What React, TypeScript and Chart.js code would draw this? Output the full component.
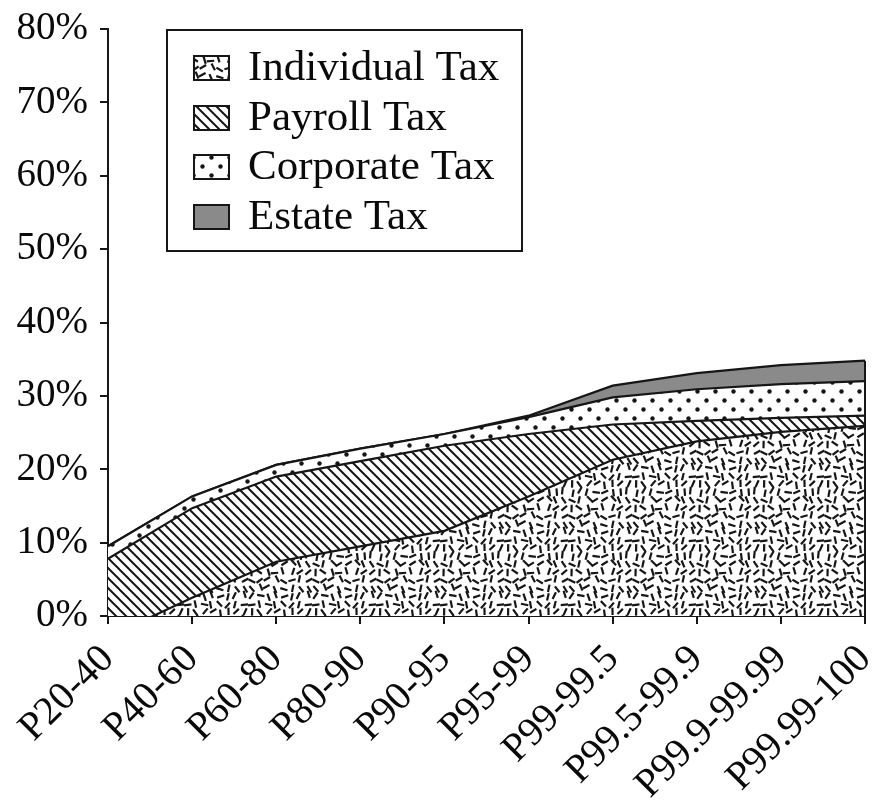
import React, { useEffect, useRef } from 'react';
import { Chart, registerables } from 'chart.js';

Chart.register(...registerables);

const categories = ['P20-40', 'P40-60', 'P60-80', 'P80-90', 'P90-95', 'P95-99', 'P99-99.5', 'P99.5-99.9', 'P99.9-99.99', 'P99.99-100'];
const individualTax = [-2.9, 2.5, 7.4, 9.5, 11.6, 16.3, 21.3, 23.8, 25.1, 25.9];
const payrollTax = [10.7, 12.2, 11.6, 11.6, 11.6, 8.5, 4.8, 2.8, 1.9, 1.4];
const corporateTax = [1.7, 1.6, 1.6, 1.7, 1.6, 2.3, 3.7, 4.3, 4.6, 4.7];
const estateTax = [0, 0, 0, 0, 0, 0.2, 1.6, 2.2, 2.6, 2.8];
const seriesLabels = ['Individual Tax', 'Payroll Tax', 'Corporate Tax', 'Estate Tax'];

const W = 872;
const H = 805;
const FONT = "'Liberation Serif', 'Times New Roman', serif";
const INK = '#161616';

function hash(n: number): number {
  let x = Math.imul(n + 0x9e3779b9, 2654435761) >>> 0;
  x ^= x >>> 15;
  x = Math.imul(x, 2246822519) >>> 0;
  x ^= x >>> 13;
  x = Math.imul(x, 3266489917) >>> 0;
  x ^= x >>> 16;
  return (x >>> 0) / 4294967296;
}

function tile(size: number, draw: (g: CanvasRenderingContext2D) => void): HTMLCanvasElement {
  const c = document.createElement('canvas');
  c.width = size;
  c.height = size;
  const g = c.getContext('2d')!;
  g.fillStyle = '#ffffff';
  g.fillRect(0, 0, size, size);
  draw(g);
  return c;
}

function confettiTile() {
  const n = 8;
  const cell = 8;
  const S = n * cell;
  return tile(S, (g) => {
    g.strokeStyle = INK;
    g.lineWidth = 2.2;
    g.lineCap = 'butt';
    for (let i = 0; i < n; i++) {
      for (let j = 0; j < n; j++) {
        const k = i * n + j;
        const cx = i * cell + cell / 2 + (hash(k * 3 + 1) - 0.5) * 3.5;
        const cy = j * cell + cell / 2 + (hash(k * 3 + 2) - 0.5) * 3.5;
        const a = hash(k * 3 + 3) * Math.PI;
        const len = 7.5;
        const dx = Math.cos(a) * len / 2;
        const dy = Math.sin(a) * len / 2;
        for (const ox of [-S, 0, S]) {
          for (const oy of [-S, 0, S]) {
            g.beginPath();
            g.moveTo(cx - dx + ox, cy - dy + oy);
            g.lineTo(cx + dx + ox, cy + dy + oy);
            g.stroke();
          }
        }
      }
    }
  });
}

function hatchTile() {
  const S = 10;
  return tile(S, (g) => {
    g.strokeStyle = INK;
    g.lineWidth = 2;
    for (const o of [-S, 0, S]) {
      g.beginPath();
      g.moveTo(o - 1, -1);
      g.lineTo(o + S + 1, S + 1);
      g.stroke();
    }
  });
}

function dotsTile() {
  const S = 18;
  return tile(S, (g) => {
    g.fillStyle = INK;
    for (const [x, y] of [[4.5, 4.5], [13.5, 13.5]]) {
      g.beginPath();
      g.arc(x, y, 2.2, 0, Math.PI * 2);
      g.fill();
    }
  });
}

const legendBoxPlugin = {
  id: 'legendBox',
  afterDraw(chart: any) {
    const ctx = chart.ctx as CanvasRenderingContext2D;
    ctx.save();
    ctx.strokeStyle = INK;
    ctx.lineWidth = 2;
    ctx.fillStyle = '#ffffff';
    ctx.fillRect(167, 30, 355, 221);
    ctx.strokeRect(167, 30, 355, 221);
    const rowY = [68, 118, 167, 217];
    chart.data.datasets.forEach((ds: any, i: number) => {
      const y = rowY[i];
      ctx.fillStyle = ds.backgroundColor;
      ctx.fillRect(194, y - 12, 35, 24);
      ctx.strokeStyle = INK;
      ctx.lineWidth = 2;
      ctx.strokeRect(194, y - 12, 35, 24);
      ctx.fillStyle = '#0a0a0a';
      ctx.font = `43px ${FONT}`;
      ctx.textBaseline = 'middle';
      ctx.textAlign = 'left';
      ctx.fillText(ds.label, 248, y + 1);
    });
    ctx.restore();
  },
};

const rightEdgePlugin = {
  id: 'rightEdge',
  afterDatasetsDraw(chart: any) {
    const xs = chart.scales.x;
    const ys = chart.scales.y;
    const last = categories.length - 1;
    const total = individualTax[last] + payrollTax[last] + corporateTax[last] + estateTax[last];
    const x = xs.getPixelForValue(last);
    const ctx = chart.ctx as CanvasRenderingContext2D;
    ctx.save();
    ctx.strokeStyle = INK;
    ctx.lineWidth = 2;
    ctx.beginPath();
    ctx.moveTo(x, ys.getPixelForValue(0));
    ctx.lineTo(x, ys.getPixelForValue(total));
    ctx.stroke();
    ctx.restore();
  },
};

export default function App() {
  const ref = useRef<HTMLCanvasElement | null>(null);

  useEffect(() => {
    const canvas = ref.current!;
    const ctx = canvas.getContext('2d')!;
    const confetti = ctx.createPattern(confettiTile(), 'repeat');
    const hatch = ctx.createPattern(hatchTile(), 'repeat');
    const dots = ctx.createPattern(dotsTile(), 'repeat');
    const grey = '#8a8a8a';

    const common = {
      borderColor: INK,
      borderWidth: 2.2,
      pointRadius: 0,
      pointHoverRadius: 0,
      tension: 0,
    };

    const chart = new Chart(canvas, {
      type: 'line',
      data: {
        labels: categories,
        datasets: [
          { ...common, label: seriesLabels[0], data: individualTax, backgroundColor: confetti as any, fill: 'origin' },
          { ...common, label: seriesLabels[1], data: payrollTax, backgroundColor: hatch as any, fill: '-1' },
          { ...common, label: seriesLabels[2], data: corporateTax, backgroundColor: dots as any, fill: '-1' },
          { ...common, label: seriesLabels[3], data: estateTax, backgroundColor: grey, fill: '-1' },
        ],
      },
      options: {
        animation: false,
        responsive: false,
        maintainAspectRatio: false,
        events: [],
        layout: { padding: { top: 29, right: 7, left: 0, bottom: 0 } },
        plugins: {
          legend: { display: false },
          tooltip: { enabled: false },
        },
        scales: {
          x: {
            offset: false,
            grid: { display: true, drawOnChartArea: false, drawTicks: true, tickLength: 8, color: INK, lineWidth: 2 },
            border: { display: true, color: INK, width: 2 },
            ticks: {
              minRotation: 45,
              maxRotation: 45,
              autoSkip: false,
              padding: 12,
              color: '#0a0a0a',
              font: { family: FONT, size: 40 },
            },
            afterFit(scale: any) {
              scale.height = 189;
              scale.paddingLeft = 0;
              scale.paddingRight = 0;
            },
          },
          y: {
            stacked: 'single' as any,
            min: 0,
            max: 80,
            grid: { display: true, drawOnChartArea: false, drawTicks: true, tickLength: 8, color: INK, lineWidth: 2 },
            border: { display: true, color: INK, width: 2 },
            ticks: {
              stepSize: 10,
              padding: 12,
              color: '#0a0a0a',
              font: { family: FONT, size: 39 },
              callback: (v: any) => `${v}%`,
            },
            afterFit(scale: any) {
              scale.width = 108;
              scale.paddingTop = 0;
              scale.paddingBottom = 0;
            },
          },
        },
      },
      plugins: [rightEdgePlugin, legendBoxPlugin],
    });

    return () => chart.destroy();
  }, []);

  return (
    <div style={{ position: 'absolute', left: 0, top: 0, width: W, height: H, background: '#fff' }}>
      <canvas ref={ref} width={W} height={H} style={{ display: 'block', width: W, height: H }} />
    </div>
  );
}
